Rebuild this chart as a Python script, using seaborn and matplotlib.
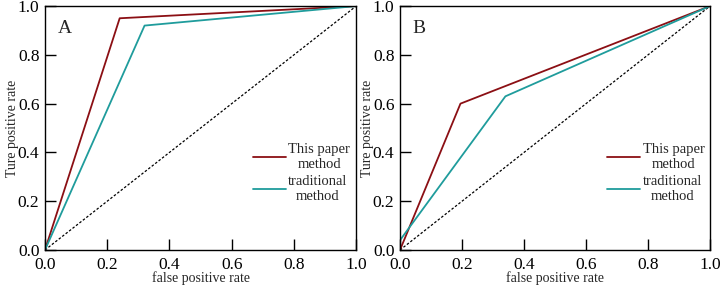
#!/usr/bin/env python3
import numpy as np
import pandas as pd
import matplotlib
matplotlib.use("Agg")
import matplotlib.pyplot as plt
import seaborn as sns

# ROC points
fpr_a_ours = [0.0, 0.24, 1.0]
tpr_a_ours = [0.0, 0.95, 1.0]
fpr_a_trad = [0.0, 0.32, 1.0]
tpr_a_trad = [0.0, 0.92, 1.0]

fpr_b_ours = [0.0, 0.195, 1.0]
tpr_b_ours = [0.0, 0.60, 1.0]
fpr_b_trad = [0.0, 0.34, 1.0]
tpr_b_trad = [0.04, 0.63, 1.0]

diag = [0.0, 1.0]
ticks = [0.0, 0.2, 0.4, 0.6, 0.8, 1.0]
labels = ["This paper\nmethod", "traditional\nmethod"]
panels = ["A", "B"]

RED = "#8b0f14"
TEAL = "#1f9c9c"

sns.set_theme(style="ticks")
plt.rcParams["font.family"] = ["Liberation Serif", "DejaVu Serif"]


def make_df(fo, to, ft, tt):
    a = pd.DataFrame({"fpr": fo, "tpr": to, "method": labels[0]})
    b = pd.DataFrame({"fpr": ft, "tpr": tt, "method": labels[1]})
    return pd.concat([a, b], ignore_index=True)


data = [
    make_df(fpr_a_ours, tpr_a_ours, fpr_a_trad, tpr_a_trad),
    make_df(fpr_b_ours, tpr_b_ours, fpr_b_trad, tpr_b_trad),
]

fig = plt.figure(figsize=(7.21, 2.89), dpi=100)
boxes = [[0.0624, 0.135, 0.4316, 0.844], [0.5548, 0.135, 0.4300, 0.844]]

for box, df, tag in zip(boxes, data, panels):
    ax = fig.add_axes(box)
    ax.plot(diag, diag, color="black", linestyle=(0, (2, 1.5)), linewidth=0.9)
    sns.lineplot(data=df, x="fpr", y="tpr", hue="method", sort=False,
                 palette=[RED, TEAL], linewidth=1.3, estimator=None, ax=ax)
    ax.set_xlim(0, 1)
    ax.set_ylim(0, 1)
    ax.set_xticks(ticks)
    ax.set_yticks(ticks)
    ax.set_xticklabels([f"{t:.1f}" for t in ticks])
    ax.set_yticklabels([f"{t:.1f}" for t in ticks])
    ax.tick_params(direction="in", length=8, width=1.0, labelsize=12.5,
                   colors="black")
    ax.tick_params(axis="x", pad=5)
    ax.tick_params(axis="y", pad=4)
    for s in ax.spines.values():
        s.set_linewidth(1.0)
        s.set_color("black")
    ax.set_xlabel("false positive rate", fontsize=10, labelpad=-1)
    ax.set_ylabel("Ture positive rate", fontsize=10, labelpad=-1)
    ax.text(0.04, 0.91, tag, transform=ax.transAxes, fontsize=14,
            va="center", ha="left")
    leg = ax.legend(loc="center left", bbox_to_anchor=(0.625, 0.315),
                    frameon=False, fontsize=10.5, handlelength=2.3,
                    handletextpad=0.15, labelspacing=0.25,
                    title=None)
    for t in leg.get_texts():
        t.set_multialignment("center")
        t.set_linespacing(1.25)

fig.savefig("out.png", dpi=100)
